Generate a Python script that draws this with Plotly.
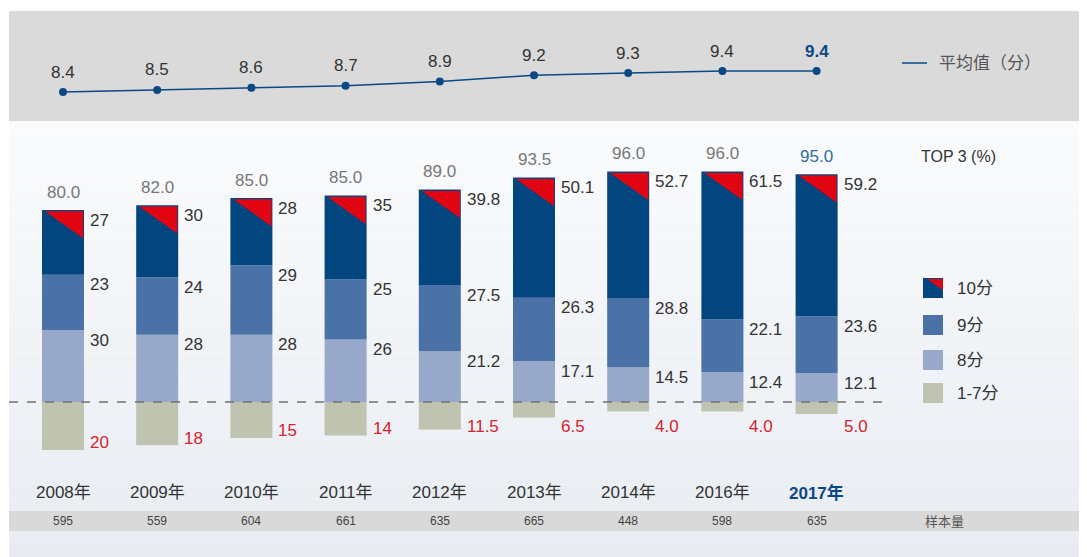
import plotly.graph_objects as go

# ------------------------- DATA -------------------------
years = ['2008年', '2009年', '2010年', '2011年', '2012年', '2013年', '2014年', '2016年', '2017年']
score_10 = [27, 30, 28, 35, 39.8, 50.1, 52.7, 61.5, 59.2]
score_9 = [23, 24, 29, 25, 27.5, 26.3, 28.8, 22.1, 23.6]
score_8 = [30, 28, 28, 26, 21.2, 17.1, 14.5, 12.4, 12.1]
score_1_7 = [20, 18, 15, 14, 11.5, 6.5, 4.0, 4.0, 5.0]
top3 = [80.0, 82.0, 85.0, 85.0, 89.0, 93.5, 96.0, 96.0, 95.0]
avg_score = [8.4, 8.5, 8.6, 8.7, 8.9, 9.2, 9.3, 9.4, 9.4]
sample_size = [595, 559, 604, 661, 635, 665, 448, 598, 635]

# ------------------------- FORMAT -------------------------
OFF = 8  # default body margin of the page
W, H = 1087 - OFF, 557 - OFF
colors = {'c10': '#03457f', 'c9': '#4a72a6', 'c8': '#98a8cb', 'c17': '#c0c3b0',
          'red': '#e10514', 'line': '#0b4886', 'txt': '#333333', 'redtxt': '#d7232e'}
FONT = 'Liberation Sans, Noto Sans CJK SC, sans-serif'
BAR_W = 0.446
STEP = 94.2      # px between bars
X0 = 63 - OFF    # px of first bar centre
BASE = 402 - OFF  # px of zero line
K = 2.4          # px per percent


def py(p):
    # page pixel from top -> paper coordinate
    return 1 - (p - OFF) / H


def px(p):
    return (p - OFF) / W


def fmt(v, i):
    return f'{v:.1f}' if i >= 4 else f'{v:g}'


xs = list(range(len(years)))
fig = go.Figure()

# stacked bars
fig.add_trace(go.Bar(x=xs, y=score_8, marker_color=colors['c8'], width=BAR_W, name='8分'))
fig.add_trace(go.Bar(x=xs, y=score_9, marker_color=colors['c9'], width=BAR_W, name='9分'))
fig.add_trace(go.Bar(x=xs, y=score_10, marker_color=colors['c10'], width=BAR_W, name='10分'))
fig.add_trace(go.Bar(x=xs, y=[-v for v in score_1_7], marker_color=colors['c17'], width=BAR_W, name='1-7分'))
fig.update_traces(marker_line_width=0)

# red corner triangles on 10分 segments
tx, ty = [], []
for i in xs:
    top = score_8[i] + score_9[i] + score_10[i]
    xl, xr = i - BAR_W / 2 + 0.032, i + BAR_W / 2 - 0.01
    tx += [xl, xr, xr, xl, None]
    ty += [top - 0.55, top - 0.55, top - 11.8, top - 0.55, None]
fig.add_trace(go.Scatter(x=tx, y=ty, fill='toself', fillcolor=colors['red'], mode='lines',
                         line=dict(width=0, color=colors['red']), hoverinfo='skip'))

# average line
fig.add_trace(go.Scatter(x=xs, y=avg_score, yaxis='y2', mode='lines+markers',
                         line=dict(color=colors['line'], width=1.5),
                         marker=dict(color=colors['line'], size=8)))

ann = []
for i in xs:
    last = i == len(xs) - 1
    s8 = score_8[i]
    s9 = s8 + score_9[i]
    s10 = s9 + score_10[i]
    right = i + BAR_W / 2
    for val, top in [(score_8[i], s8), (score_9[i], s9), (score_10[i], s10)]:
        ann.append(dict(x=right, y=top - 4.2, text=fmt(val, i), xanchor='left', yanchor='middle',
                        xshift=4, font=dict(size=17, color=colors['txt'])))
    ann.append(dict(x=right, y=-max(score_1_7[i], 13) + 3, text=fmt(score_1_7[i], i), xanchor='left',
                    yanchor='middle', xshift=4, font=dict(size=17, color=colors['redtxt'])))
    ann.append(dict(x=i, y=s10, text=f'{top3[i]:.1f}', yanchor='middle', yshift=18,
                    font=dict(size=17, color='#2e6da4' if last else '#777777')))
    # average labels
    ann.append(dict(x=i, y=avg_score[i], yref='y2', yshift=20, yanchor='middle',
                    text=f'<b>{avg_score[i]}</b>' if last else f'{avg_score[i]}',
                    font=dict(size=17, color=colors['line'] if last else colors['txt'])))
    # years and samples
    ann.append(dict(x=i, y=py(493), yref='paper', yanchor='middle',
                    text=f'<b>{years[i]}</b>' if last else years[i],
                    font=dict(size=17, color=colors['line'] if last else colors['txt'])))
    ann.append(dict(x=i, y=py(521), yref='paper', yanchor='middle', text=str(sample_size[i]),
                    font=dict(size=12, color='#444444')))

ann.append(dict(x=px(944), y=py(521), xref='paper', yref='paper', xanchor='center', yanchor='middle',
                text='样本量', font=dict(size=13, color='#555555')))
ann.append(dict(x=px(919), y=py(156), xref='paper', yref='paper', xanchor='left', yanchor='middle',
                text='TOP 3 (%)', font=dict(size=16, color=colors['txt'])))
ann.append(dict(x=px(937), y=py(63), xref='paper', yref='paper', xanchor='left', yanchor='middle',
                text='平均值（分）', font=dict(size=17, color='#555555')))

# ------------------------- SHAPES -------------------------
shapes = []
# main gradient background
n = 30
y0, y1 = 121, 557
for k in range(n):
    t = k / (n - 1)
    c = tuple(round(a + (b - a) * t) for a, b in zip((250, 251, 252), (232, 236, 242)))
    shapes.append(dict(type='rect', xref='paper', yref='paper', layer='below',
                       x0=px(9), x1=1, y0=py(y0 + (y1 - y0) * (k + 1) / n), y1=py(y0 + (y1 - y0) * k / n),
                       fillcolor='rgb(%d,%d,%d)' % c, line_width=0))
# top gray band and sample band
shapes.append(dict(type='rect', xref='paper', yref='paper', layer='below', x0=px(9), x1=1,
                   y0=py(121), y1=py(11), fillcolor='#dadada', line_width=0))
shapes.append(dict(type='rect', xref='paper', yref='paper', layer='below', x0=px(9), x1=1,
                   y0=py(531), y1=py(511), fillcolor='#d9d9d9', line_width=0))
# dashed baseline
shapes.append(dict(type='line', xref='paper', yref='y', x0=px(9), x1=px(886), y0=0, y1=0,
                   line=dict(color='#707070', width=1.3, dash='dash')))
# avg legend line
shapes.append(dict(type='line', xref='paper', yref='paper', x0=px(902), x1=px(927), y0=py(63), y1=py(63),
                   line=dict(color=colors['line'], width=1.5)))
# legend squares
for name, col, cy in [('10分', colors['c10'], 288), ('9分', colors['c9'], 325),
                      ('8分', colors['c8'], 360), ('1-7分', colors['c17'], 393)]:
    shapes.append(dict(type='rect', xref='paper', yref='paper', x0=px(923), x1=px(943),
                       y0=py(cy + 10), y1=py(cy - 10), fillcolor=col, line_width=0))
    ann.append(dict(x=px(955), y=py(cy), xref='paper', yref='paper', xanchor='left', yanchor='middle',
                    text=name, font=dict(size=17, color=colors['txt'])))
shapes.append(dict(type='path', xref='paper', yref='paper',
                   path=f'M {px(927)},{py(279)} L {px(943)},{py(279)} L {px(943)},{py(290)} Z',
                   fillcolor=colors['red'], line_width=0))

fig.update_layout(
    width=W, height=H, margin=dict(l=0, r=0, t=0, b=0),
    barmode='relative', showlegend=False,
    paper_bgcolor='white', plot_bgcolor='rgba(0,0,0,0)',
    font=dict(family=FONT, color=colors['txt']),
    xaxis=dict(range=[-X0 / STEP, (W - X0) / STEP], visible=False, fixedrange=True),
    yaxis=dict(range=[-(H - BASE) / K, BASE / K], visible=False, domain=[0, 1]),
    yaxis2=dict(range=[8.4 - (H - (92 - OFF)) / 21, 8.4 + (92 - OFF) / 21], overlaying='y', visible=False),
    annotations=[dict(showarrow=False, xref='x', **a) if 'xref' not in a else dict(showarrow=False, **a)
                 for a in ann],
    shapes=shapes,
)

fig.write_html('out.html')
